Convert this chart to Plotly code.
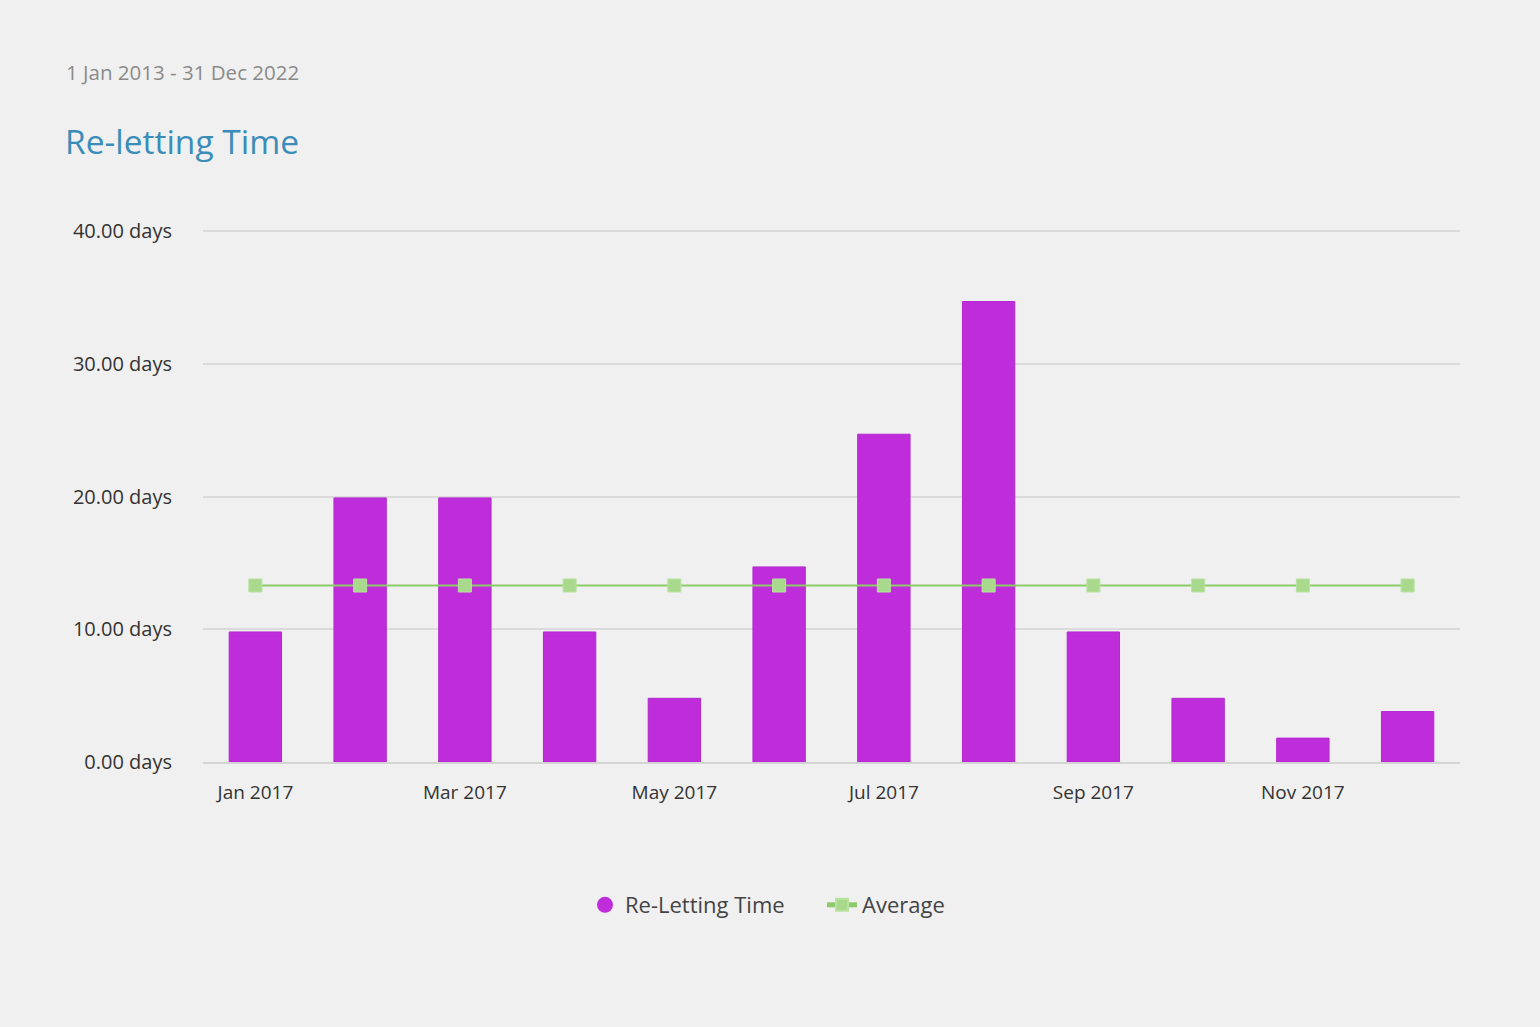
import plotly.graph_objects as go

months = ["Jan 2017", "Feb 2017", "Mar 2017", "Apr 2017", "May 2017", "Jun 2017",
          "Jul 2017", "Aug 2017", "Sep 2017", "Oct 2017", "Nov 2017", "Dec 2017"]
reletting_days = [9.8, 19.9, 19.9, 9.8, 4.8, 14.7, 24.7, 34.7, 9.8, 4.8, 1.8, 3.8]
average_days = [13.3] * 12
x_tick_labels = ["Jan 2017", "Mar 2017", "May 2017", "Jul 2017", "Sep 2017", "Nov 2017"]
y_tick_values = [0, 10, 20, 30, 40]
y_tick_text = ["%.2f days" % v for v in y_tick_values]

BAR = "#bf2ddb"
LINE = "#8ccc68"
MARK = "#a8d98c"
FONT = "Open Sans"

fig = go.Figure()
fig.add_trace(go.Bar(
    x=months, y=reletting_days, name="Re-Letting Time",
    marker=dict(color=BAR, line=dict(color="#b328cf", width=1)),
    showlegend=False,
))
fig.add_trace(go.Scatter(
    x=[None], y=[None], mode="markers", name="Re-Letting Time",
    marker=dict(symbol="circle", size=22, color=BAR), legend="legend",
))
fig.add_trace(go.Scatter(
    x=months, y=average_days, mode="lines+markers", name="Average",
    line=dict(color=LINE, width=2),
    marker=dict(symbol="square", size=13, color=MARK, line=dict(color="#b8e2a0", width=1)),
    legend="legend2",
))

L, R, T, B = 203, 80, 227, 265
W, H = 1540, 1027
pw = W - L - R
ph = H - T - B
y_top = ph / 13.27

def px_x(v):
    return (v - L) / pw

def px_y(v):
    return (H - B - v) / ph

legend_common = dict(orientation="h", xanchor="left", yanchor="middle", y=px_y(905),
                     font=dict(size=22, color="#444444", family=FONT),
                     bgcolor="rgba(0,0,0,0)", itemwidth=30)

fig.update_layout(
    width=W, height=H,
    paper_bgcolor="#f0f0f0", plot_bgcolor="#f0f0f0",
    margin=dict(l=L, r=R, t=T, b=B),
    font=dict(family=FONT, color="#333333", size=19),
    bargap=0.5,
    legend=dict(x=px_x(585), itemsizing="trace", **legend_common),
    legend2=dict(x=px_x(822), itemsizing="constant", **legend_common),
    xaxis=dict(type="category", categoryorder="array", categoryarray=months,
               tickmode="array", tickvals=x_tick_labels, ticktext=x_tick_labels,
               showgrid=False, showline=True, linecolor="#d4d4d4", linewidth=2,
               ticks="", ticklabelstandoff=12, tickfont=dict(size=19, color="#333333"),
               range=[-0.5, 11.5], fixedrange=True),
    yaxis=dict(range=[0, y_top], tickmode="array", tickvals=y_tick_values, ticktext=y_tick_text,
               showgrid=True, gridcolor="#dadada", gridwidth=1.5,
               zeroline=False, showline=False, ticks="",
               ticklabelstandoff=30, tickfont=dict(size=20, color="#333333")),
    annotations=[
        dict(text="1 Jan 2013 - 31 Dec 2022", xref="paper", yref="paper",
             x=px_x(64), y=px_y(72), xanchor="left", yanchor="middle",
             showarrow=False, font=dict(size=20.5, color="#8a8a8a", family=FONT)),
        dict(text="Re-letting Time", xref="paper", yref="paper",
             x=px_x(63), y=px_y(141), xanchor="left", yanchor="middle",
             showarrow=False, font=dict(size=33.5, color="#3a8db8", family=FONT)),
    ],
)

fig.write_html("out.html", config={"displayModeBar": False},
               post_script="document.body.style.margin='0';document.body.style.background='#f0f0f0';"
                           "document.body.style.overflow='hidden';")
